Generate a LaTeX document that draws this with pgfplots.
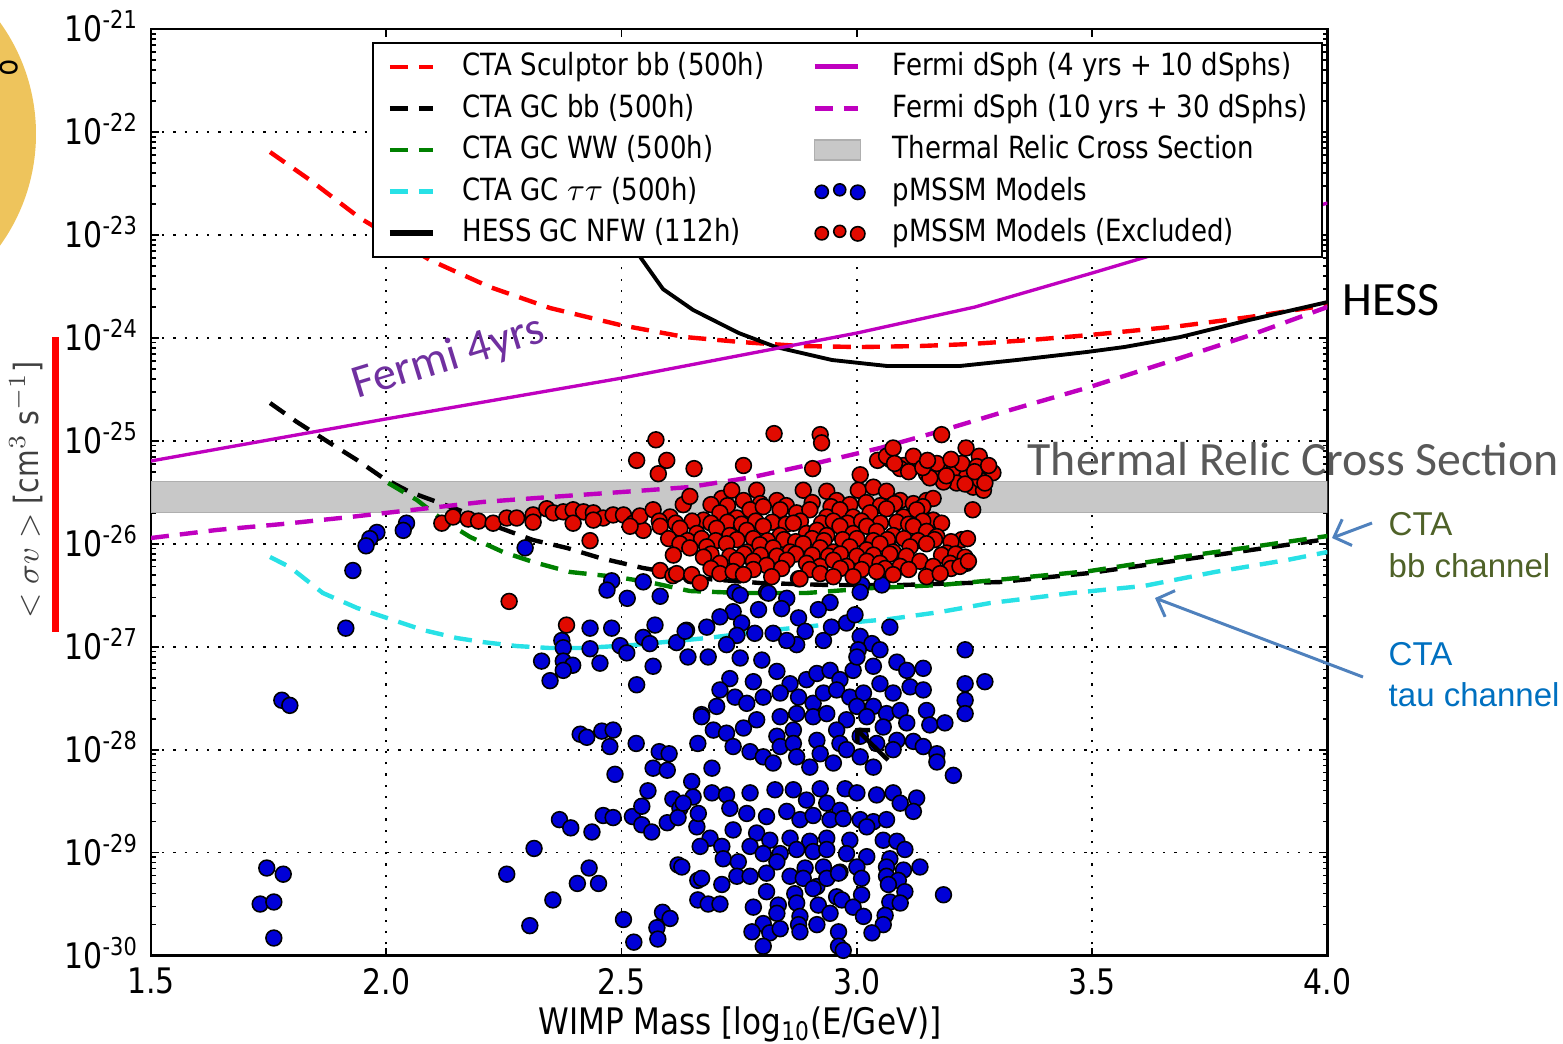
\documentclass[border=0pt]{standalone}
\usepackage{fontspec}
\setmainfont{DejaVu Sans}[FakeStretch=0.85]
\newfontfamily\calibri{Carlito}
\newfontfamily\arialf{Liberation Sans}
\usepackage{pgfplots}
\usepackage{pgfplotstable}
\pgfplotsset{compat=1.18}
\usetikzlibrary{arrows.meta}
\definecolor{thermgray}{RGB}{89,89,89}
\definecolor{oliveann}{RGB}{79,98,40}
\definecolor{blueann}{RGB}{0,112,192}
\definecolor{arrowblue}{RGB}{79,129,189}
\definecolor{fermipurple}{RGB}{112,48,160}
\definecolor{circfill}{RGB}{238,196,92}
\definecolor{mmag}{rgb}{0.75,0,0.75}
\definecolor{mgreen}{rgb}{0,0.5,0}
\definecolor{mcyan}{RGB}{40,225,230}
\definecolor{mblue}{RGB}{0,0,215}
\definecolor{mred}{RGB}{225,10,0}
\definecolor{bandgray}{RGB}{200,200,200}
\definecolor{bandedge}{RGB}{175,175,175}

\pgfplotsset{
  sculptor/.style={red, line width=1.25pt, dash pattern=on 1.8mm off 1.1mm},
  gcbb/.style={black, line width=1.25pt, dash pattern=on 1.8mm off 1.1mm},
  gcww/.style={mgreen, line width=1.25pt, dash pattern=on 1.8mm off 1.1mm},
  gctau/.style={mcyan, line width=1.25pt, dash pattern=on 1.8mm off 1.1mm},
  hess/.style={black, line width=1.1pt},
  fermifour/.style={mmag, line width=0.95pt},
  fermiten/.style={mmag, line width=1.25pt, dash pattern=on 1.8mm off 1.1mm},
}

\pgfplotstableread{
x y
1.753 -22.195
1.838 -22.467
1.944 -22.836
2.093 -23.244
2.220 -23.506
2.348 -23.710
2.497 -23.875
2.635 -23.992
2.752 -24.040
2.879 -24.079
3.007 -24.089
3.134 -24.079
3.240 -24.060
3.368 -24.021
3.495 -23.972
3.687 -23.885
3.835 -23.797
4.000 -23.681
}\sculptordata

\pgfplotstableread{
x y
1.753 -24.633
1.810 -24.817
1.880 -25.021
1.938 -25.187
1.993 -25.361
2.050 -25.497
2.108 -25.594
2.171 -25.701
2.242 -25.847
2.312 -25.964
2.384 -26.041
2.454 -26.138
2.545 -26.235
2.681 -26.342
2.794 -26.381
2.943 -26.401
3.092 -26.401
3.234 -26.381
3.304 -26.372
3.495 -26.284
3.687 -26.158
3.837 -26.061
4.000 -25.954
}\gcbbdata

\pgfplotstableread{
x y
2.004 -25.410
2.065 -25.575
2.120 -25.769
2.178 -25.934
2.248 -26.080
2.312 -26.177
2.390 -26.274
2.490 -26.323
2.567 -26.381
2.645 -26.459
2.752 -26.478
2.894 -26.478
3.034 -26.430
3.177 -26.401
3.319 -26.342
3.495 -26.265
3.687 -26.129
3.837 -26.032
4.000 -25.925
}\gcwwdata

\pgfplotstableread{
x y
1.753 -26.129
1.795 -26.226
1.865 -26.478
1.938 -26.624
2.008 -26.731
2.078 -26.838
2.150 -26.916
2.205 -26.955
2.278 -26.994
2.348 -27.013
2.418 -27.013
2.524 -26.984
2.681 -26.916
2.822 -26.838
2.928 -26.789
3.000 -26.760
3.070 -26.731
3.177 -26.663
3.283 -26.576
3.389 -26.517
3.457 -26.478
3.610 -26.410
3.761 -26.274
3.914 -26.158
4.000 -26.080
}\gctaudata

\pgfplotstableread{
x y
2.507 -22.904
2.541 -23.224
2.588 -23.526
2.652 -23.729
2.749 -23.953
2.828 -24.089
2.947 -24.215
3.064 -24.273
3.219 -24.273
3.340 -24.215
3.489 -24.137
3.568 -24.089
3.687 -23.992
3.833 -23.827
4.000 -23.652
}\hessdata

\pgfplotstableread{
x y
1.500 -25.196
1.999 -24.788
2.501 -24.390
3.000 -23.953
3.251 -23.700
3.500 -23.370
3.750 -23.030
4.000 -22.690
}\fermifourdata

\pgfplotstableread{
x y
1.500 -25.944
1.640 -25.866
1.780 -25.808
1.923 -25.740
2.035 -25.682
2.205 -25.594
2.348 -25.546
2.533 -25.487
2.645 -25.449
2.779 -25.352
2.915 -25.216
3.049 -25.070
3.170 -24.915
3.304 -24.730
3.495 -24.477
3.687 -24.196
3.837 -23.972
4.000 -23.700
}\fermitendata

\pgfplotstableread{
x y
1.980 -25.89
1.965 -25.95
1.957 -26.02
2.043 -25.80
2.036 -25.87
1.929 -26.26
1.914 -26.82
1.778 -27.52
1.795 -27.57
1.746 -29.15
1.781 -29.21
1.732 -29.50
1.761 -29.48
1.761 -29.83
2.295 -26.04
2.479 -26.36
2.469 -26.45
2.512 -26.53
2.546 -26.37
2.433 -26.82
2.479 -26.82
2.373 -26.94
2.376 -27.01
2.433 -27.02
2.497 -26.99
2.330 -27.14
2.376 -27.14
2.396 -27.18
2.376 -27.23
2.454 -27.16
2.348 -27.33
2.532 -27.37
2.412 -27.85
2.426 -27.88
2.458 -27.82
2.482 -27.81
2.475 -27.97
2.531 -27.94
2.486 -28.24
2.368 -28.68
2.392 -28.76
2.437 -28.80
2.461 -28.64
2.482 -28.66
2.523 -28.65
2.314 -28.96
2.256 -29.21
2.431 -29.15
2.406 -29.30
2.451 -29.30
2.354 -29.46
2.305 -29.71
2.504 -29.65
2.526 -29.87
2.582 -26.51
2.571 -26.79
2.546 -26.91
2.560 -26.97
2.638 -26.84
2.617 -26.96
2.511 -27.06
2.567 -27.19
2.641 -27.10
2.580 -28.02
2.601 -28.04
2.662 -27.94
2.567 -28.18
2.597 -28.20
2.556 -28.40
2.543 -28.55
2.609 -28.48
2.624 -28.57
2.649 -28.31
2.652 -28.46
2.543 -28.73
2.564 -28.80
2.597 -28.71
2.620 -28.66
2.660 -28.75
2.620 -29.12
2.587 -29.58
2.603 -29.64
2.575 -29.73
2.577 -29.84
2.662 -29.46
2.662 -29.27
2.684 -29.50
2.709 -29.50
2.692 -28.18
2.670 -27.66
2.741 -26.47
2.808 -26.47
2.876 -26.34
3.010 -26.40
3.053 -26.40
2.752 -26.50
2.812 -26.48
2.851 -26.53
2.943 -26.57
2.918 -26.64
3.007 -26.47
2.840 -26.63
2.791 -26.64
2.737 -26.66
2.709 -26.71
2.635 -26.85
2.681 -26.81
2.755 -26.77
2.783 -26.87
2.745 -26.89
2.822 -26.87
2.876 -26.72
2.890 -26.85
2.929 -26.94
2.946 -26.81
2.978 -26.77
2.996 -26.69
2.872 -26.98
2.851 -26.94
2.723 -26.98
2.684 -27.10
3.007 -26.90
3.032 -26.97
3.049 -27.03
3.070 -26.81
3.003 -27.03
3.230 -27.03
2.752 -27.11
2.798 -27.13
2.830 -27.24
2.730 -27.31
2.709 -27.42
2.741 -27.49
2.780 -27.34
2.858 -27.36
2.893 -27.32
2.915 -27.26
2.943 -27.23
2.964 -27.32
2.992 -27.23
3.000 -27.10
3.035 -27.19
3.085 -27.15
3.106 -27.23
3.141 -27.21
3.049 -27.36
3.077 -27.45
3.113 -27.39
3.141 -27.42
3.230 -27.36
3.272 -27.34
3.230 -27.52
3.230 -27.65
2.702 -27.58
2.670 -27.68
2.766 -27.55
2.801 -27.49
2.837 -27.45
2.876 -27.49
2.907 -27.55
2.929 -27.45
2.957 -27.42
2.985 -27.49
3.014 -27.45
3.035 -27.58
3.063 -27.65
3.092 -27.62
3.148 -27.62
2.837 -27.68
2.872 -27.65
2.907 -27.68
2.936 -27.65
2.978 -27.71
3.000 -27.58
3.021 -27.68
3.056 -27.78
3.106 -27.74
3.155 -27.76
3.187 -27.74
2.695 -27.81
2.723 -27.84
2.759 -27.79
2.787 -27.71
2.830 -27.87
2.865 -27.81
2.915 -27.91
2.957 -27.81
2.964 -27.94
3.007 -27.87
3.042 -27.94
3.085 -27.91
3.120 -27.92
3.141 -27.97
3.170 -28.04
2.737 -27.97
2.773 -28.02
2.801 -28.07
2.837 -27.97
2.865 -27.94
2.872 -28.07
2.922 -28.04
2.950 -28.13
2.978 -28.00
3.007 -28.07
3.077 -28.00
3.170 -28.12
2.822 -28.13
2.900 -28.17
3.035 -28.17
3.205 -28.25
2.692 -28.42
2.723 -28.44
2.773 -28.42
2.826 -28.39
2.865 -28.39
2.893 -28.49
2.922 -28.38
2.975 -28.38
3.000 -28.42
3.042 -28.44
3.077 -28.42
3.127 -28.47
2.936 -28.52
2.964 -28.59
2.631 -28.52
2.663 -28.62
2.730 -28.57
2.766 -28.62
2.808 -28.65
2.851 -28.60
2.879 -28.68
2.907 -28.64
2.943 -28.68
2.971 -28.67
3.007 -28.68
3.035 -28.70
3.063 -28.68
3.092 -28.52
3.120 -28.60
2.737 -28.78
2.787 -28.81
2.815 -28.88
2.858 -28.86
2.900 -28.89
2.936 -28.86
2.985 -28.88
3.021 -28.75
3.056 -28.88
3.085 -28.89
2.688 -28.86
2.713 -28.94
2.667 -28.94
2.773 -28.94
2.801 -29.01
2.837 -29.01
2.872 -28.97
2.907 -28.99
2.936 -28.97
2.978 -29.01
3.021 -29.04
3.070 -29.06
3.102 -28.97
2.716 -29.06
2.748 -29.09
2.830 -29.09
2.890 -29.15
2.929 -29.14
2.964 -29.19
3.000 -29.14
3.063 -29.14
3.099 -29.17
3.134 -29.14
2.628 -29.14
2.670 -29.25
2.713 -29.31
2.745 -29.23
2.773 -29.23
2.808 -29.20
2.858 -29.23
2.886 -29.25
2.915 -29.33
2.936 -29.25
2.961 -29.20
3.010 -29.25
3.063 -29.23
3.088 -29.27
2.808 -29.38
2.868 -29.40
2.907 -29.35
2.957 -29.43
3.010 -29.41
3.067 -29.31
3.102 -29.38
3.184 -29.41
2.780 -29.53
2.833 -29.51
2.872 -29.49
2.918 -29.51
2.968 -29.46
2.992 -29.53
3.070 -29.48
3.092 -29.49
2.830 -29.59
2.879 -29.62
2.943 -29.59
3.014 -29.62
3.060 -29.61
2.876 -29.70
2.915 -29.70
2.801 -29.69
3.056 -29.70
2.777 -29.77
2.815 -29.78
2.837 -29.74
2.879 -29.77
2.961 -29.77
3.032 -29.78
2.801 -29.91
2.961 -29.91
2.971 -29.95
}\bluedata

\pgfplotstableread{
x y
2.532 -25.19
2.433 -25.97
2.261 -26.56
2.383 -26.79
2.582 -26.26
2.609 -26.31
2.647 -26.31
2.118 -25.80
2.142 -25.74
2.174 -25.76
2.196 -25.78
2.227 -25.80
2.256 -25.75
2.277 -25.75
2.312 -25.72
2.341 -25.66
2.355 -25.70
2.376 -25.69
2.397 -25.67
2.419 -25.69
2.440 -25.70
2.461 -25.75
2.482 -25.72
2.504 -25.72
2.525 -25.80
2.546 -25.87
2.539 -25.73
2.518 -25.83
2.440 -25.77
2.397 -25.80
2.312 -25.79
2.573 -24.99
2.824 -24.93
2.922 -24.94
2.925 -25.02
2.596 -25.19
2.578 -25.32
2.654 -25.27
2.759 -25.24
2.906 -25.27
3.180 -24.94
3.232 -25.07
3.260 -25.15
3.289 -25.31
3.246 -25.67
3.223 -25.96
3.044 -25.19
3.070 -25.18
3.099 -25.24
3.127 -25.22
3.148 -25.32
3.177 -25.28
3.205 -25.30
3.233 -25.35
3.247 -25.45
3.269 -25.48
3.212 -25.41
3.184 -25.40
3.155 -25.36
3.092 -25.27
3.063 -25.15
3.223 -25.22
3.255 -25.25
3.262 -25.38
3.170 -25.22
3.120 -25.15
3.077 -25.07
3.007 -25.33
3.110 -25.30
3.140 -25.26
3.190 -25.34
3.230 -25.42
3.250 -25.30
3.272 -25.41
3.200 -25.18
3.080 -25.22
3.150 -25.19
3.280 -25.24
2.713 -25.56
2.734 -25.48
2.759 -25.58
2.787 -25.48
2.830 -25.58
2.886 -25.48
2.936 -25.49
2.957 -25.58
3.003 -25.48
3.035 -25.45
3.063 -25.49
3.092 -25.58
3.120 -25.61
3.148 -25.58
3.162 -25.56
2.690 -25.62
2.725 -25.63
2.795 -25.61
2.850 -25.63
2.905 -25.60
2.945 -25.64
2.985 -25.62
3.020 -25.60
3.050 -25.63
3.080 -25.61
3.140 -25.64
2.567 -25.67
2.603 -25.74
2.631 -25.62
2.645 -25.54
2.674 -25.77
2.709 -25.70
2.745 -25.75
2.773 -25.67
2.801 -25.64
2.837 -25.67
2.872 -25.70
2.900 -25.67
2.936 -25.74
2.964 -25.67
2.992 -25.74
3.028 -25.70
3.063 -25.66
3.099 -25.74
3.127 -25.67
3.162 -25.77
2.580 -25.78
2.615 -25.80
2.650 -25.78
2.690 -25.80
2.725 -25.79
2.755 -25.81
2.785 -25.78
2.820 -25.79
2.850 -25.81
2.880 -25.78
2.925 -25.80
2.950 -25.78
2.980 -25.80
3.010 -25.78
3.050 -25.80
3.085 -25.79
3.110 -25.81
3.140 -25.78
3.180 -25.80
2.582 -25.83
2.624 -25.85
2.660 -25.90
2.702 -25.85
2.730 -25.92
2.766 -25.87
2.801 -25.83
2.837 -25.92
2.865 -25.80
2.893 -25.90
2.915 -25.87
2.936 -25.92
2.964 -25.83
2.992 -25.90
3.021 -25.83
3.042 -25.88
3.077 -25.92
3.120 -25.83
3.148 -25.88
3.170 -25.93
2.600 -25.95
2.640 -25.97
2.670 -25.95
2.700 -25.97
2.745 -25.96
2.780 -25.95
2.810 -25.97
2.845 -25.96
2.870 -25.98
2.905 -25.95
2.930 -25.97
2.970 -25.96
3.000 -25.95
3.035 -25.97
3.065 -25.96
3.100 -25.95
3.130 -25.97
3.165 -25.96
3.200 -25.98
3.235 -25.95
2.624 -26.00
2.645 -26.04
2.681 -26.03
2.723 -26.00
2.766 -26.08
2.794 -26.01
2.822 -26.04
2.858 -26.08
2.886 -26.00
2.922 -26.04
2.950 -26.08
2.985 -26.03
3.021 -26.06
3.049 -26.00
3.077 -26.08
3.113 -26.03
3.148 -26.00
3.191 -26.09
2.610 -26.11
2.690 -26.10
2.730 -26.12
2.760 -26.10
2.795 -26.11
2.830 -26.12
2.870 -26.10
2.905 -26.11
2.940 -26.12
2.965 -26.10
3.000 -26.12
3.035 -26.11
3.070 -26.10
3.105 -26.12
3.180 -26.11
3.210 -26.10
2.674 -26.13
2.709 -26.19
2.745 -26.16
2.780 -26.17
2.808 -26.21
2.851 -26.16
2.893 -26.19
2.922 -26.22
2.950 -26.16
2.978 -26.22
3.021 -26.17
3.049 -26.19
3.092 -26.22
3.134 -26.17
3.162 -26.22
3.198 -26.19
3.233 -26.19
3.230 -26.13
2.690 -26.24
2.780 -26.25
2.840 -26.24
2.900 -26.25
2.965 -26.24
3.010 -26.25
3.060 -26.24
3.110 -26.25
3.200 -26.24
2.617 -26.29
2.649 -26.30
2.667 -26.38
2.709 -26.29
2.737 -26.27
2.759 -26.30
2.819 -26.32
2.879 -26.34
2.922 -26.29
2.950 -26.32
2.992 -26.32
3.042 -26.27
3.077 -26.30
3.148 -26.32
3.177 -26.29
3.219 -26.22
3.237 -26.17
}\reddata

\begin{document}
\begin{tikzpicture}
\useasboundingbox (0,0) rectangle (156.3mm,-104.4mm);
\begin{scope}[x=0.1mm,y=-0.1mm]
  \fill[circfill] (-155,134) circle (19.1mm);
  \node[rotate=-90, inner sep=0pt, font=\fontsize{9}{9}\selectfont] at (9,68) {o};
  \fill[red] (52,337) rectangle (59,632);
  \node[rotate=90, text=black!75, font=\fontsize{9.5}{11}\selectfont] at (26,490) {$<\sigma v>$ [cm$^3$ s$^{-1}$]};
\end{scope}

\begin{axis}[
  at={(15.1mm,-95.55mm)}, anchor=south west,
  scale only axis, width=117.65mm, height=92.65mm,
  xmin=1.5, xmax=4, ymin=-30, ymax=-21,
  xtick={1.5,2,2.5,3,3.5,4},
  xticklabels={1.5,2.0,2.5,3.0,3.5,4.0},
  ytick={-30,-29,...,-21},
  yticklabels={10\textsuperscript{-30},10\textsuperscript{-29},10\textsuperscript{-28},10\textsuperscript{-27},10\textsuperscript{-26},10\textsuperscript{-25},10\textsuperscript{-24},10\textsuperscript{-23},10\textsuperscript{-22},10\textsuperscript{-21}},
  minor ytick={-29.699,-29.523,-29.398,-29.301,-29.222,-29.155,-29.097,-29.046,
    -28.699,-28.523,-28.398,-28.301,-28.222,-28.155,-28.097,-28.046,
    -27.699,-27.523,-27.398,-27.301,-27.222,-27.155,-27.097,-27.046,
    -26.699,-26.523,-26.398,-26.301,-26.222,-26.155,-26.097,-26.046,
    -25.699,-25.523,-25.398,-25.301,-25.222,-25.155,-25.097,-25.046,
    -24.699,-24.523,-24.398,-24.301,-24.222,-24.155,-24.097,-24.046,
    -23.699,-23.523,-23.398,-23.301,-23.222,-23.155,-23.097,-23.046,
    -22.699,-22.523,-22.398,-22.301,-22.222,-22.155,-22.097,-22.046,
    -21.699,-21.523,-21.398,-21.301,-21.222,-21.155,-21.097,-21.046},
  tick align=inside,
  grid=major,
  major grid style={black, line width=0.5pt, dash pattern=on 0.6pt off 2.6pt},
  major tick length=0.8mm, minor tick length=0.45mm,
  every tick/.style={black, line width=0.5pt},
  axis line style={black, line width=0.75pt},
  tick label style={font=\fontsize{10}{11}\selectfont},
  yticklabel style={anchor=base east, yshift=-3.6pt},
  legend columns=2,
  legend cell align=left,
  legend image code/.code={\draw[#1] (0mm,0mm) -- (4.3mm,0mm);},
  legend style={at={(0.1878,0.986)}, anchor=north west, draw=black, fill=white,
    line width=0.6pt, inner xsep=1.4mm, inner ysep=0.3mm,
    font=\fontsize{8.7}{10}\selectfont,
    nodes={inner sep=0pt, minimum height=4.15mm},
    /tikz/every odd column/.append style={column sep=2.7mm},
    /tikz/every even column/.append style={column sep=4.8mm},
    row sep=0pt},
]
\addplot[fill=bandgray, draw=bandedge, line width=0.4pt, forget plot]
  coordinates {(1.5,-25.699) (4,-25.699) (4,-25.398) (1.5,-25.398)} -- cycle;
\addplot[only marks, mark=*, mark size=2.25pt, mark options={fill=mblue, draw=black, line width=0.45pt}, forget plot] table {\bluedata};
\addplot[only marks, mark=*, mark size=2.25pt, mark options={fill=mred, draw=black, line width=0.45pt}, forget plot] table {\reddata};
\addplot[sculptor, forget plot] table {\sculptordata};
\addplot[gcbb, forget plot] table {\gcbbdata};
\addplot[gcww, forget plot] table {\gcwwdata};
\addplot[gctau, forget plot] table {\gctaudata};
\addplot[hess, forget plot] table {\hessdata};
\addplot[fermifour, forget plot] table {\fermifourdata};
\addplot[fermiten, forget plot] table {\fermitendata};

\addlegendimage{sculptor}
\addlegendentry{CTA Sculptor bb (500h)}
\addlegendimage{fermifour, line width=1.4pt}
\addlegendentry{Fermi dSph (4 yrs + 10 dSphs)}
\addlegendimage{gcbb}
\addlegendentry{CTA GC bb (500h)}
\addlegendimage{fermiten}
\addlegendentry{Fermi dSph (10 yrs + 30 dSphs)}
\addlegendimage{gcww}
\addlegendentry{CTA GC WW (500h)}
\addlegendimage{legend image code/.code={\draw[fill=bandgray, draw=bandedge, line width=0.4pt] (0mm,-1mm) rectangle (4.6mm,1mm);}}
\addlegendentry{Thermal Relic Cross Section}
\addlegendimage{gctau}
\addlegendentry{CTA GC $\tau\tau$ (500h)}
\addlegendimage{legend image code/.code={\draw[fill=mblue, draw=black, line width=0.45pt] (0.7mm,-0.05mm) circle (0.66mm) (2.5mm,0.15mm) circle (0.6mm) (4.3mm,-0.1mm) circle (0.72mm);}}
\addlegendentry{pMSSM Models}
\addlegendimage{black, line width=1.6pt}
\addlegendentry{HESS GC NFW (112h)}
\addlegendimage{legend image code/.code={\draw[fill=mred, draw=black, line width=0.45pt] (0.7mm,-0.05mm) circle (0.66mm) (2.5mm,0.15mm) circle (0.6mm) (4.3mm,-0.1mm) circle (0.72mm);}}
\addlegendentry{pMSSM Models (Excluded)}
\end{axis}

\begin{scope}[x=0.1mm,y=-0.1mm]
  \node[anchor=base, inner sep=0pt, font=\fontsize{10.4}{12}\selectfont] at (740,1034) {WIMP Mass [log\textsubscript{10}(E/GeV)]};
  \node[anchor=base west, inner sep=0pt, font=\calibri\fontsize{13.6}{15}\selectfont] at (1342,315) {HESS};
  \node[anchor=base west, inner sep=0pt, text=thermgray, font=\calibri\fontsize{13.6}{15}\selectfont] at (1027,475) {Thermal Relic Cross Section};
  \node[anchor=base west, inner sep=0pt, rotate=17, text=fermipurple, font=\calibri\fontsize{13.3}{15}\selectfont] at (357,399) {Fermi 4yrs};
  \node[anchor=base west, inner sep=0pt, text=oliveann, font=\arialf\fontsize{9.4}{10}\selectfont] at (1388,535) {CTA};
  \node[anchor=base west, inner sep=0pt, text=oliveann, font=\arialf\fontsize{9.4}{10}\selectfont] at (1388,577) {bb channel};
  \node[anchor=base west, inner sep=0pt, text=blueann, font=\arialf\fontsize{9.4}{10}\selectfont] at (1388,665) {CTA};
  \node[anchor=base west, inner sep=0pt, text=blueann, font=\arialf\fontsize{9.4}{10}\selectfont] at (1388,706) {tau channel};
  \draw[arrowblue, line width=0.3mm, -{Straight Barb[length=1.4mm,width=2.8mm]}] (1372,523) -- (1332,538);
  \draw[arrowblue, line width=0.3mm, -{Straight Barb[length=1.4mm,width=2.8mm]}] (1363,677) -- (1155,598);
  \draw[black, line width=0.45mm, -{Straight Barb[length=0.9mm,width=1.8mm]}] (888,760) -- (855,728);
\end{scope}
\end{tikzpicture}
\end{document}
